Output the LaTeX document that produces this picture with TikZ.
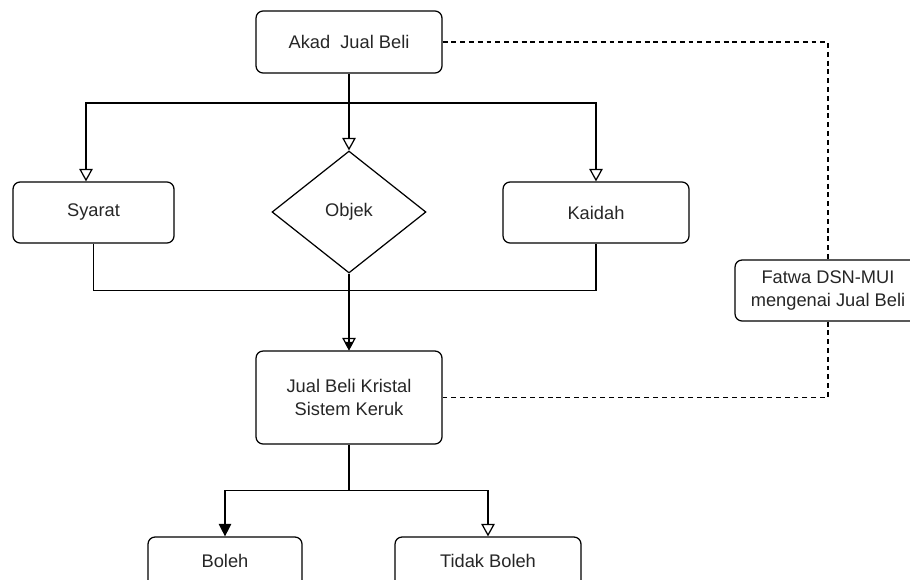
\documentclass[tikz,border=0pt]{standalone}
\usepackage{fontspec}
\setmainfont{Liberation Sans}
\usetikzlibrary{arrows.meta,shapes.geometric,calc}
\begin{document}
\begin{tikzpicture}[x=0.02cm,y=-0.02cm,
  box/.style={draw, rounded corners=4pt, line width=0.7pt, align=center,
    font=\fontsize{10.4}{13.5}\selectfont, inner sep=0pt, text=black!85},
  dia/.style={draw, diamond, line width=0.7pt, inner sep=0pt,
    font=\fontsize{10.4}{13.5}\selectfont, text=black!85},
  conn/.style={line width=0.7pt},
  openarr/.style={conn, -{Triangle[open, length=0.25cm, width=0.27cm]}},
  fillarr/.style={conn, -{Triangle[length=0.25cm, width=0.25cm]}},
  dashline/.style={line width=0.6pt, dash pattern=on 2.8pt off 2.2pt}]
\useasboundingbox (0,0) rectangle (910,579);
\clip (0,0) rectangle (910,579);

\node[box, minimum width=3.72cm, minimum height=1.24cm] (akad) at (349,42) {Akad\ \ Jual Beli};
\node[box, minimum width=3.22cm, minimum height=1.22cm] (syarat) at (93.5,212.5) {Syarat};
\node[dia, minimum width=3.08cm, minimum height=2.44cm] (objek) at (349,212) {\raisebox{2pt}{Objek}};
\node[box, minimum width=3.72cm, minimum height=1.22cm] (kaidah) at (596,212.5) {Kaidah};
\node[box, minimum width=3.72cm, minimum height=1.86cm] (jbk) at (349,397.5) {Jual Beli Kristal\\Sistem Keruk};
\node[box, minimum width=3.72cm, minimum height=1.22cm] (fatwa) at (828,290.5) {Fatwa DSN-MUI\\mengenai Jual Beli};
\node[box, minimum width=3.08cm, minimum height=1.2cm] (boleh) at (225,567) {\raisebox{7pt}{Boleh}};
\node[box, minimum width=3.72cm, minimum height=1.2cm] (tidak) at (488,567) {\raisebox{7pt}{Tidak Boleh}};

\coordinate (split1) at (349,103);
\coordinate (syin) at ($(syarat.north)+(-7.5,0)$);
\draw[conn] (akad.south) -- (split1);
\draw[openarr] (split1) -| (syin);
\draw[openarr] (split1) -- (objek.north);
\draw[openarr] (split1) -| (kaidah.north);

\draw[conn] (syarat.south) -- ++(0,47) coordinate (merge) -| (kaidah.south);
\coordinate (mid) at ($(merge)!(objek.south)!(merge -| kaidah.south)$);
\draw[openarr] (mid) -- (jbk.north);
\draw[conn, -{Triangle[length=0.17cm, width=0.17cm]}] (objek.south) -- (jbk.north);

\draw[conn] (jbk.south) -- ++(0,46) coordinate (split2);
\draw[fillarr] (split2) -| (boleh.north);
\draw[openarr] (split2) -| (tidak.north);

\draw[dashline] (akad.east) -| (fatwa.north);
\draw[dashline] (fatwa.south) |- (jbk.east);
\end{tikzpicture}
\end{document}
